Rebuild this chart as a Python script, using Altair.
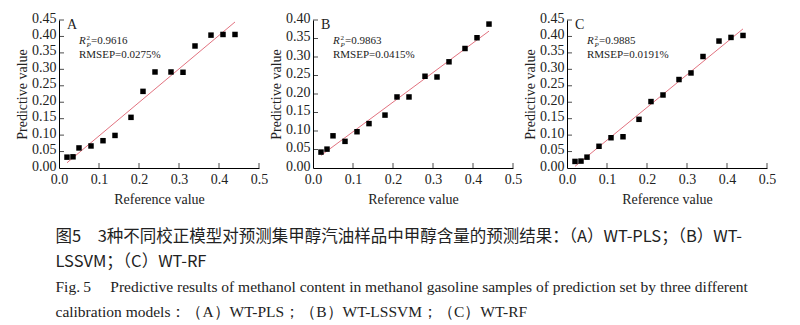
import altair as alt
import pandas as pd

# ---- data ----
ref_x = [0.02, 0.035, 0.05, 0.08, 0.11, 0.14, 0.18, 0.21, 0.24, 0.28, 0.31, 0.34, 0.38, 0.41, 0.44]
pred_A = [0.033, 0.034, 0.061, 0.067, 0.083, 0.099, 0.154, 0.233, 0.292, 0.292, 0.291, 0.371, 0.404, 0.406, 0.406]
pred_B = [0.043, 0.051, 0.087, 0.072, 0.098, 0.120, 0.143, 0.192, 0.192, 0.248, 0.246, 0.287, 0.323, 0.352, 0.389]
pred_C = [0.020, 0.021, 0.033, 0.066, 0.092, 0.095, 0.148, 0.202, 0.222, 0.269, 0.289, 0.339, 0.386, 0.397, 0.403]

fit_x = [0.02, 0.44]
fit_A = [0.016, 0.444]
fit_B = [0.034, 0.370]
fit_C = [0.005, 0.423]

panel_letters = ["A", "B", "C"]
r2_values = ["0.9616", "0.9863", "0.9885"]
rmsep_values = ["0.0275%", "0.0415%", "0.0191%"]
y_max = [0.45, 0.40, 0.45]

x_ticks = [0.0, 0.1, 0.2, 0.3, 0.4, 0.5]
y_ticks_45 = [0.00, 0.05, 0.10, 0.15, 0.20, 0.25, 0.30, 0.35, 0.40, 0.45]
y_ticks_40 = [0.00, 0.05, 0.10, 0.15, 0.20, 0.25, 0.30, 0.35, 0.40]

caption_cn = ["图5\u20033种不同校正模型对预测集甲醇汽油样品中甲醇含量的预测结果：（A）WT-PLS；（B）WT-",
              "LSSVM；（C）WT-RF"]
caption_en = ["Fig.\u20095\u2003 Predictive results of methanol content in methanol gasoline samples of prediction set by three different",
              "calibration models：（A）WT-PLS；（B）WT-LSSVM；（C）WT-RF"]

W, H = 200, 148
SERIF = "Liberation Serif"
LINE = "#e2727f"


def panel(i, ys, yfit, yticks):
    ymax = y_max[i]
    xs = alt.Scale(domain=[0, 0.5], nice=False)
    ysc = alt.Scale(domain=[0, ymax], nice=False)
    pts = pd.DataFrame({"x": ref_x, "y": ys})
    fit = pd.DataFrame({"x": fit_x, "y": yfit})

    xax = alt.Axis(values=x_ticks, format=".1f", title="Reference value", labelFlush=False,
                   labelOverlap=False, labelPadding=4, titlePadding=6)
    yax = alt.Axis(values=yticks, format=".2f", title="Predictive value", labelFlush=False,
                   labelOverlap=False, labelOffset=-2, titlePadding=2)

    def X(f):
        return alt.X(f, scale=xs, axis=xax, title="Reference value")

    def Y(f):
        return alt.Y(f, scale=ysc, axis=yax, title="Predictive value")

    line = alt.Chart(fit).mark_line(color=LINE, strokeWidth=1).encode(x=X("x:Q"), y=Y("y:Q"))
    squares = alt.Chart(pts).mark_square(size=30, color="black", opacity=1).encode(x=X("x:Q"), y=Y("y:Q"))

    xt = alt.Chart(pd.DataFrame({"t": x_ticks[1:]})).mark_tick(
        color="black", size=5, thickness=1, yOffset=-2.5).encode(x=X("t:Q"), y=alt.value(H))
    yt = alt.Chart(pd.DataFrame({"t": yticks[1:]})).mark_tick(
        color="black", size=5, thickness=1, xOffset=2.5).encode(y=Y("t:Q"), x=alt.value(0))

    one = pd.DataFrame({"letter": [panel_letters[i]], "r2": ["=" + r2_values[i]],
                        "rm": ["RMSEP=" + rmsep_values[i]], "two": ["2"], "p": ["P"], "R": ["R"]})
    base = alt.Chart(one)
    tx = 20
    letter = base.mark_text(font=SERIF, fontSize=14, align="left", baseline="middle", color="#222").encode(
        text="letter:N", x=alt.value(8), y=alt.value(5))
    rtxt = base.mark_text(font=SERIF, fontSize=11, fontStyle="italic", align="left", baseline="middle", color="#222").encode(
        text="R:N", x=alt.value(tx), y=alt.value(21))
    sup = base.mark_text(font=SERIF, fontSize=7, align="left", baseline="middle", color="#222").encode(
        text="two:N", x=alt.value(tx + 7.5), y=alt.value(18))
    sub = base.mark_text(font=SERIF, fontSize=7, fontStyle="italic", align="left", baseline="middle", color="#222").encode(
        text="p:N", x=alt.value(tx + 7.5), y=alt.value(25))
    eq = base.mark_text(font=SERIF, fontSize=11, align="left", baseline="middle", color="#222").encode(
        text="r2:N", x=alt.value(tx + 12), y=alt.value(21))
    rm = base.mark_text(font=SERIF, fontSize=11, align="left", baseline="middle", color="#222").encode(
        text="rm:N", x=alt.value(tx), y=alt.value(35))

    return alt.layer(line, squares, xt, yt, letter, rtxt, sup, sub, eq, rm).properties(width=W, height=H)


chart = alt.hconcat(
    panel(0, pred_A, fit_A, y_ticks_45),
    panel(1, pred_B, fit_B, y_ticks_40),
    panel(2, pred_C, fit_C, y_ticks_45),
    spacing=1,
).properties(
    padding={"left": 15, "top": 11, "right": 5, "bottom": 5},
    title=alt.TitleParams(
        text=caption_cn, subtitle=caption_en, orient="bottom", anchor="start", frame="bounds",
        font="Noto Sans CJK SC", fontSize=16.5, fontWeight="normal", color="#222", lineHeight=25,
        subtitleFont=SERIF, subtitleFontSize=15.5, subtitleColor="#222", subtitleLineHeight=25.5,
        subtitlePadding=9, offset=23, dx=40,
    ),
).configure_view(stroke=None).configure_axis(
    domainColor="black", domainWidth=1, ticks=False, grid=False,
    labelFont=SERIF, labelFontSize=14, labelColor="#222", labelPadding=3,
    titleFont=SERIF, titleFontSize=14, titleFontWeight="normal", titleColor="#222", titlePadding=4,
)

chart.save("out.html", embed_options={"renderer": "svg", "actions": False})
